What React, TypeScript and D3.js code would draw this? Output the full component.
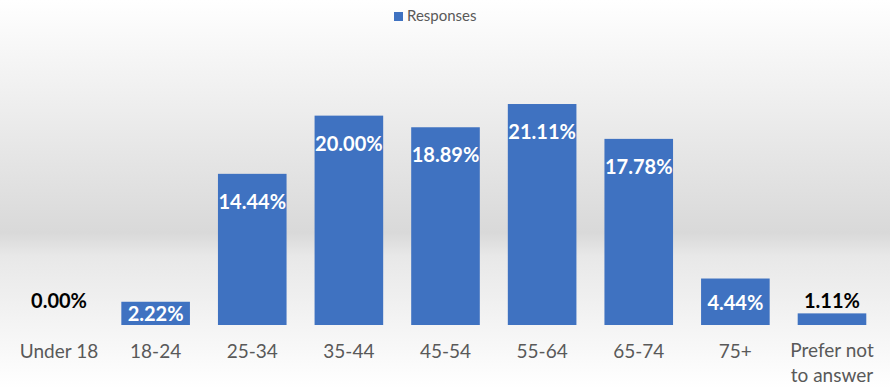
import React from "react";
import * as d3 from "d3";

const categories = ["Under 18", "18-24", "25-34", "35-44", "45-54", "55-64", "65-74", "75+", "Prefer not to answer"];
const values = [0.0, 2.22, 14.44, 20.0, 18.89, 21.11, 17.78, 4.44, 1.11];
const seriesName = "Responses";

const W = 890;
const H = 388;
const FONT = "Lato, 'Open Sans', sans-serif";
const BAR = "#3F72C1";

export default function App() {
  const x = d3
    .scaleBand<string>()
    .domain(categories)
    .range([10.7, 880.3])
    .paddingInner(0.29)
    .paddingOuter(0.145);
  const y = d3.scaleLinear().domain([0, 22]).range([325, 94.7]);
  const bw = x.bandwidth();

  return (
    <div style={{ position: "fixed", left: 0, top: 0, width: W, height: H }}>
      <svg width={W} height={H} style={{ display: "block" }}>
        <defs>
          <linearGradient id="bg" x1="0" y1="0" x2="0" y2="1">
            <stop offset="0" stopColor="#ffffff" />
            <stop offset="0.6" stopColor="#d9d9d9" />
            <stop offset="0.66" stopColor="#e8e8e8" />
            <stop offset="1" stopColor="#ffffff" />
          </linearGradient>
        </defs>
        <rect x={0} y={0} width={W} height={H} fill="url(#bg)" />

        {/* legend */}
        <rect x={394} y={12} width={9} height={9} fill={BAR} />
        <text x={407} y={21} fontFamily={FONT} fontSize={15} fill="#595959">
          {seriesName}
        </text>

        {categories.map((c, i) => {
          const v = values[i];
          const x0 = x(c)!;
          const cx = x0 + bw / 2;
          const top = y(v);
          const h = y(0) - top;
          const inside = h > 20;
          return (
            <g key={c}>
              {h > 0 && <rect x={x0} y={top} width={bw} height={h} fill={BAR} />}
              {inside ? (
                <text
                  x={cx}
                  y={Math.min(top + 27, top + h / 2)}
                  textAnchor="middle"
                  dominantBaseline="central"
                  fontFamily={FONT}
                  fontWeight="bold"
                  fontSize={20}
                  fill="#ffffff"
                >
                  {v.toFixed(2)}%
                </text>
              ) : (
                <text
                  x={cx}
                  y={v === 0 ? top - 25 : top - 13}
                  textAnchor="middle"
                  dominantBaseline="central"
                  fontFamily={FONT}
                  fontWeight="bold"
                  fontSize={20}
                  fill="#000000"
                >
                  {v.toFixed(2)}%
                </text>
              )}
              {c === "Prefer not to answer" ? (
                <text x={cx} textAnchor="middle" fontFamily={FONT} fontSize={19} fill="#595959">
                  <tspan x={cx} y={357}>Prefer not</tspan>
                  <tspan x={cx} y={382}>to answer</tspan>
                </text>
              ) : (
                <text x={cx} y={358} textAnchor="middle" fontFamily={FONT} fontSize={19} fill="#595959">
                  {c}
                </text>
              )}
            </g>
          );
        })}
      </svg>
    </div>
  );
}
